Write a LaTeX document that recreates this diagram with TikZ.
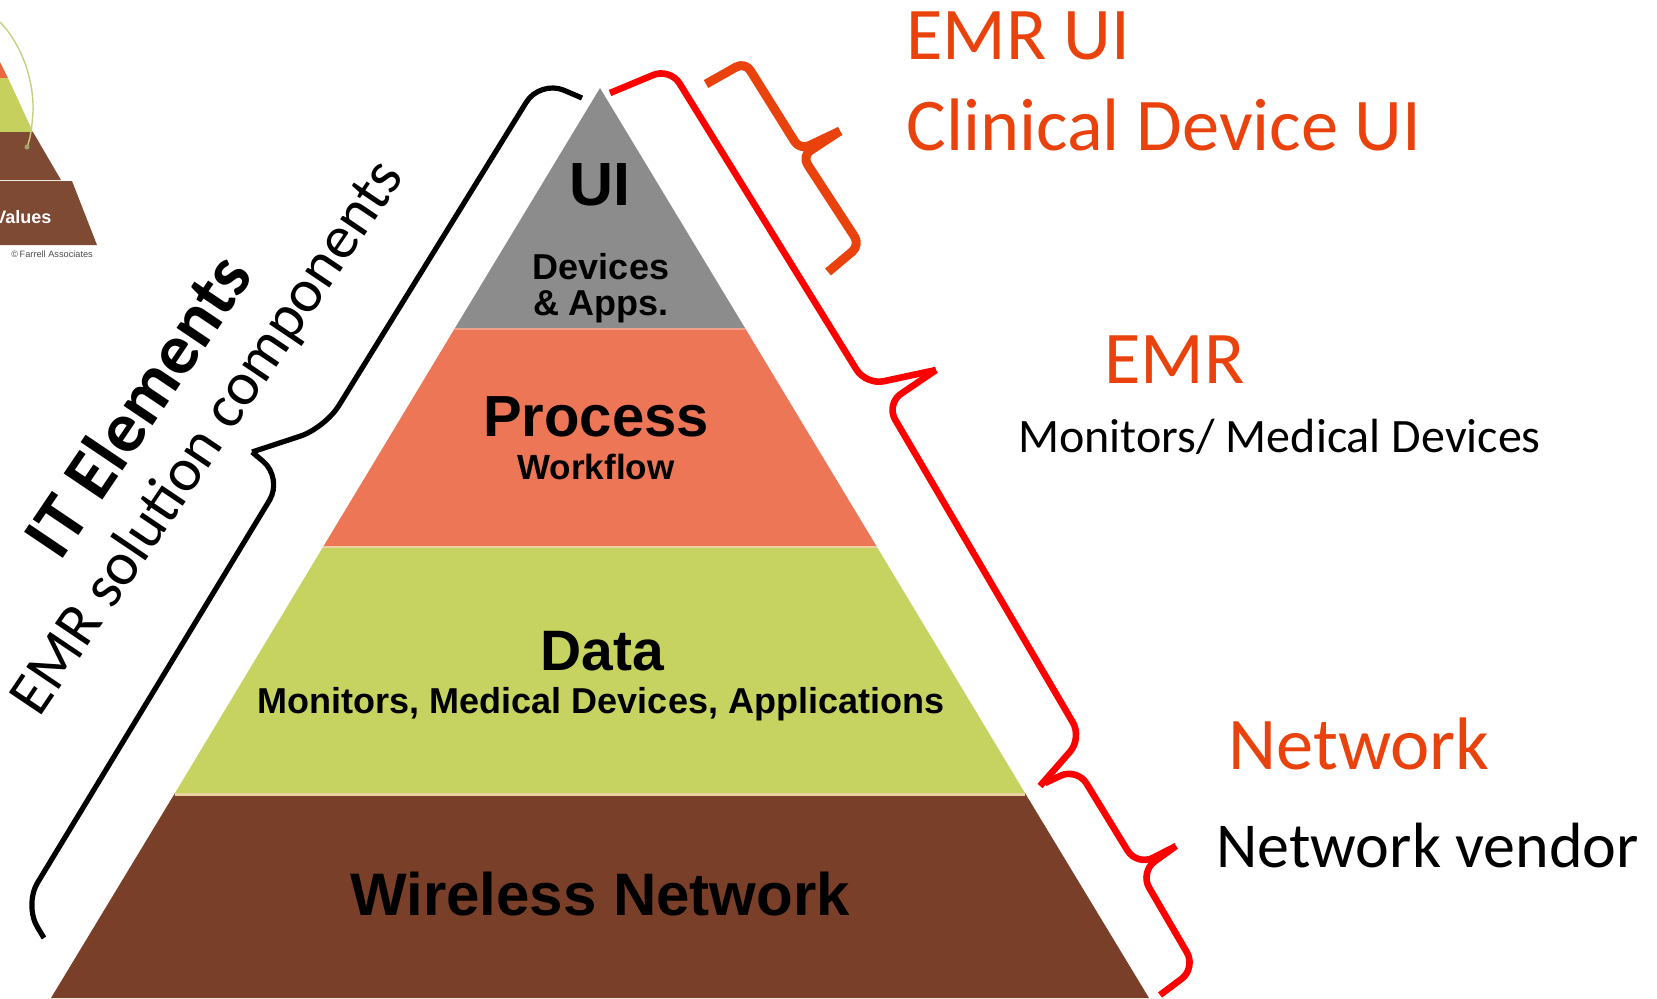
\documentclass[tikz,border=0pt]{standalone}
\usepackage{fontspec}
\setmainfont{Carlito}
\newfontfamily\arialfont{Liberation Sans}
\usepackage{xcolor}
\usetikzlibrary{calc}

\definecolor{uigray}{RGB}{140,140,140}
\definecolor{procorange}{RGB}{236,118,86}
\definecolor{datagreen}{RGB}{198,211,96}
\definecolor{netbrown}{RGB}{122,63,40}
\definecolor{emrorange}{RGB}{234,66,12}
\definecolor{bracered}{RGB}{255,0,0}
\definecolor{smallbrown}{RGB}{127,74,52}
\definecolor{smallgreen}{RGB}{197,209,92}
\definecolor{smallorange}{RGB}{232,103,60}
\definecolor{arcolive}{RGB}{200,205,130}
\definecolor{sepbeige}{RGB}{236,212,160}

\newcommand\pyrfont[1]{\arialfont\bfseries\fontsize{#1}{#1}\selectfont}
\newcommand\sidefont[1]{\fontsize{#1}{#1}\selectfont}

\begin{document}
\begin{tikzpicture}[x=0.5pt,y=-0.5pt]
\tikzset{pyr/.style={inner sep=0pt, anchor=base}}
\tikzstyle{side} = [inner sep=0pt, anchor=base west]
\tikzstyle{blackbrace} = [draw=black, line width=2.6pt, rounded corners=13pt, line join=round]
\tikzstyle{redbrace} = [draw=bracered, line width=3.3pt, rounded corners=9pt, line join=round]
\tikzstyle{orangebrace} = [draw=emrorange, line width=4.5pt, rounded corners=5pt, line join=round]

\useasboundingbox (0,0) rectangle (1657,998);

\fill[smallorange] (0,62) -- (8,78) -- (0,78) -- cycle;
\fill[smallgreen] (0,78) -- (8,78) -- (33,132) -- (0,132) -- cycle;
\fill[smallbrown] (0,132) -- (33,132) -- (61,180) -- (0,180) -- cycle;
\fill[smallbrown] (0,181) -- (72,181) -- (97,245) -- (0,245) -- cycle;
\draw[arcolive, line width=0.7pt] (0,22) .. controls (22,45) and (34,80) .. (33,112) .. controls (32,128) and (30,140) .. (27,147);
\fill[arcolive!80!black] (27,147) circle (2.5);
\node[side, text=white, font=\pyrfont{9}] (values) at (-6,223) {Values};
\node[side, text=black!70, font=\arialfont\fontsize{4.6}{4.6}\selectfont] (farrell) at (11,257) {\textcopyright\,Farrell Associates};

\fill[uigray] (600,88) -- (745,328) -- (455,328) -- cycle;
\fill[procorange] (455,328) -- (745,328) -- (877,547) -- (323,547) -- cycle;
\fill[datagreen] (323,547) -- (877,547) -- (1025,793) -- (175,793) -- cycle;
\fill[netbrown] (175,793) -- (1025,793) -- (1149,998) -- (51,998) -- cycle;
\draw[procorange!70!white, line width=1.2pt] (455,329) -- (745,329);
\draw[sepbeige, line width=1.2pt] (323,547) -- (877,547);
\draw[sepbeige, line width=1.5pt] (175,794) -- (1025,794);

\node[pyr, font=\pyrfont{30.5}] (ui) at (600,205) {UI};
\node[pyr, align=center, font=\pyrfont{18}] (devices) at (601,315) {Devices\\\& Apps.};
\node[pyr, font=\pyrfont{29}] (process) at (596,436) {Process};
\node[pyr, font=\pyrfont{17.5}] (workflow) at (596,479) {Workflow};
\node[pyr, font=\pyrfont{28.5}] (data) at (602,670) {Data};
\node[pyr, font=\pyrfont{18}] (datasub) at (601,713) {Monitors, Medical Devices, Applications};
\node[pyr, font=\pyrfont{30}] (wireless) at (600,915) {Wireless Network};

\draw[blackbrace] (582,98) -- (540,80) -- (325,428) -- (252,452);
\draw[blackbrace] (252,452) -- (283,478) -- (24,905) -- (44,938);
\draw[redbrace] (610,93) -- (670,68) -- (866,385) -- (936,370);
\draw[redbrace] (936,370) -- (886,404) -- (1082,738) -- (1040,786);
\draw[redbrace] (1045,783) -- (1077,768) -- (1137,866) -- (1176,846);
\draw[redbrace] (1176,846) -- (1140,872) -- (1196,968) -- (1160,995);
\draw[orangebrace] (706,84) -- (745,62) -- (800,150) -- (840,131);
\draw[orangebrace] (840,131) -- (802,156) -- (860,245) -- (828,272);

\node[rotate=56, font=\bfseries\sidefont{36}] (itel) at (137,405) {IT Elements};
\node[rotate=56, font=\sidefont{30.6}] (emrsol) at (209,438) {EMR solution components};

\node[side, text=emrorange, font=\sidefont{37.2}] (emrui) at (906,59) {EMR UI};
\node[side, text=emrorange, font=\sidefont{37.2}] (clinical) at (906,150) {Clinical Device UI};
\node[side, text=emrorange, font=\sidefont{37.2}] (emr) at (1104,383) {EMR};
\node[side, font=\sidefont{24}] (monitors) at (1018,452) {Monitors/ Medical Devices};
\node[side, text=emrorange, font=\sidefont{37.2}] (network) at (1228,769) {Network};
\node[side, font=\sidefont{32}] (vendor) at (1216,867) {Network vendor};
\end{tikzpicture}
\end{document}
